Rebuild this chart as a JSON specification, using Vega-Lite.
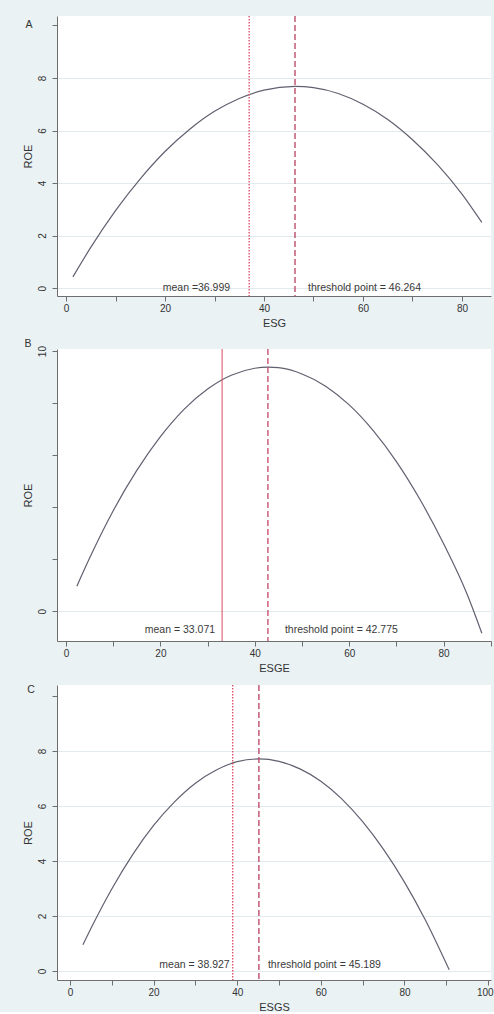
{
  "$schema": "https://vega.github.io/schema/vega-lite/v6.json",
  "background": "#EAF2F3",
  "padding": {"left": 22, "top": 15, "right": 0, "bottom": 0},
  "spacing": 11,
  "config": {
    "view": {"stroke": null, "fill": "white"},
    "font": "Liberation Sans",
    "axis": {
      "domainColor": "#6e6e6e", "tickColor": "#6e6e6e", "labelColor": "#333333", "titleColor": "#333333",
      "labelFontSize": 10, "titleFontSize": 11, "titleFontWeight": "normal", "labelFont": "Liberation Sans", "titleFont": "Liberation Sans",
      "gridColor": "#e1eaec", "tickSize": 5, "labelFlush": false
    },
    "axisX": {"labelPadding": 2, "titlePadding": 4, "grid": false},
    "axisY": {"labelPadding": 5, "titlePadding": 4, "labelAngle": 270, "labelAlign": "center", "labelBaseline": "bottom"}
  },
  "datasets": {
    "curveA": [
      {"ESG": 1.4, "ROE": 0.43}, {"ESG": 5, "ROE": 1.55}, {"ESG": 10, "ROE": 2.95}, {"ESG": 15, "ROE": 4.16},
      {"ESG": 20, "ROE": 5.2}, {"ESG": 25, "ROE": 6.05}, {"ESG": 30, "ROE": 6.73}, {"ESG": 35, "ROE": 7.22},
      {"ESG": 40, "ROE": 7.54}, {"ESG": 46.264, "ROE": 7.68}, {"ESG": 50, "ROE": 7.63}, {"ESG": 55, "ROE": 7.41},
      {"ESG": 60, "ROE": 7.0}, {"ESG": 65, "ROE": 6.42}, {"ESG": 70, "ROE": 5.65}, {"ESG": 75, "ROE": 4.71},
      {"ESG": 80, "ROE": 3.58}, {"ESG": 84, "ROE": 2.5}
    ],
    "curveB": [
      {"ESG": 2.3, "ROE": 0.96}, {"ESG": 5, "ROE": 2.04}, {"ESG": 10, "ROE": 3.86}, {"ESG": 15, "ROE": 5.41},
      {"ESG": 20, "ROE": 6.71}, {"ESG": 25, "ROE": 7.76}, {"ESG": 30, "ROE": 8.54}, {"ESG": 35, "ROE": 9.07},
      {"ESG": 40, "ROE": 9.34}, {"ESG": 42.775, "ROE": 9.38}, {"ESG": 45, "ROE": 9.36}, {"ESG": 50, "ROE": 9.12},
      {"ESG": 55, "ROE": 8.65}, {"ESG": 60, "ROE": 7.93}, {"ESG": 65, "ROE": 6.96}, {"ESG": 70, "ROE": 5.75},
      {"ESG": 75, "ROE": 4.29}, {"ESG": 80, "ROE": 2.59}, {"ESG": 85, "ROE": 0.64}, {"ESG": 88.1, "ROE": -0.85}
    ],
    "curveC": [
      {"ESG": 3.1, "ROE": 0.95}, {"ESG": 5, "ROE": 1.54}, {"ESG": 10, "ROE": 2.98}, {"ESG": 15, "ROE": 4.23},
      {"ESG": 20, "ROE": 5.29}, {"ESG": 25, "ROE": 6.15}, {"ESG": 30, "ROE": 6.83}, {"ESG": 35, "ROE": 7.31},
      {"ESG": 40, "ROE": 7.61}, {"ESG": 45.189, "ROE": 7.71}, {"ESG": 50, "ROE": 7.62}, {"ESG": 55, "ROE": 7.35},
      {"ESG": 60, "ROE": 6.9}, {"ESG": 65, "ROE": 6.26}, {"ESG": 70, "ROE": 5.43}, {"ESG": 75, "ROE": 4.42},
      {"ESG": 80, "ROE": 3.23}, {"ESG": 85, "ROE": 1.85}, {"ESG": 90.7, "ROE": 0.04}
    ],
    "refsA": [
      {"ESG": 36.999, "kind": "mean", "label": "mean =36.999"},
      {"ESG": 46.264, "kind": "threshold", "label": "threshold point = 46.264"}
    ],
    "refsB": [
      {"ESG": 33.071, "kind": "mean", "label": "mean = 33.071"},
      {"ESG": 42.775, "kind": "threshold", "label": "threshold point = 42.775"}
    ],
    "refsC": [
      {"ESG": 38.927, "kind": "mean", "label": "mean = 38.927"},
      {"ESG": 45.189, "kind": "threshold", "label": "threshold point = 45.189"}
    ]
  },
  "vconcat": [
    {
      "width": 434, "height": 280,
      "layer": [
        {
          "data": {"name": "curveA"},
          "mark": {"type": "line", "color": "#606070", "strokeWidth": 1.2, "interpolate": "monotone"},
          "encoding": {
            "x": {"field": "ESG", "type": "quantitative", "title": "ESG",
              "scale": {"domain": [-1.82, 85.86], "nice": false, "zero": false},
              "axis": {"values": [0, 10, 20, 30, 40, 50, 60, 70, 80], "labelExpr": "datum.value % 20 === 0 ? datum.label : ''"}},
            "y": {"field": "ROE", "type": "quantitative", "title": "ROE",
              "scale": {"domain": [-0.3, 10.36], "nice": false, "zero": false},
              "axis": {"values": [0, 1, 2, 3, 4, 5, 6, 7, 8, 9, 10], "labelExpr": "datum.value % 2 === 0 && datum.value < 10 ? datum.label : ''", "grid": true,
                "gridOpacity": {"condition": {"test": "datum.value % 2 === 0 && datum.value < 10", "value": 1}, "value": 0}}}
          }
        },
        {
          "data": {"name": "refsA"}, "transform": [{"filter": "datum.kind === 'mean'"}],
          "mark": {"type": "rule", "color": "#d94a64", "strokeWidth": 1.3, "strokeDash": [1.5, 1.5]},
          "encoding": {"x": {"field": "ESG", "type": "quantitative", "title": "ESG"}}
        },
        {
          "data": {"name": "refsA"}, "transform": [{"filter": "datum.kind === 'threshold'"}],
          "mark": {"type": "rule", "color": "#b8405e", "strokeWidth": 1.3, "strokeDash": [6, 3]},
          "encoding": {"x": {"field": "ESG", "type": "quantitative", "title": "ESG"}}
        },
        {
          "data": {"name": "refsA"}, "transform": [{"filter": "datum.kind === 'mean'"}],
          "mark": {"type": "text", "align": "right", "baseline": "middle", "dx": -19, "fontSize": 10.5, "color": "#3a3a3a"},
          "encoding": {"x": {"field": "ESG", "type": "quantitative", "title": "ESG"}, "y": {"datum": 0}, "text": {"field": "label"}}
        },
        {
          "data": {"name": "refsA"}, "transform": [{"filter": "datum.kind === 'threshold'"}],
          "mark": {"type": "text", "align": "left", "baseline": "middle", "dx": 13, "fontSize": 10.5, "color": "#3a3a3a"},
          "encoding": {"x": {"field": "ESG", "type": "quantitative", "title": "ESG"}, "y": {"datum": 0}, "text": {"field": "label"}}
        },
        {
          "data": {"name": "refsA"}, "transform": [{"filter": "datum.kind === 'mean'"}],
          "mark": {"type": "text", "text": "A", "align": "center", "baseline": "middle", "fontSize": 10.5, "color": "#333333"},
          "encoding": {"x": {"datum": -7.5}, "y": {"datum": 10}}
        }
      ]
    },
    {
      "width": 434, "height": 292,
      "layer": [
        {
          "data": {"name": "curveB"},
          "mark": {"type": "line", "color": "#606070", "strokeWidth": 1.2, "interpolate": "monotone"},
          "encoding": {
            "x": {"field": "ESG", "type": "quantitative", "title": "ESGE",
              "scale": {"domain": [-1.91, 90.04], "nice": false, "zero": false},
              "axis": {"values": [0, 10, 20, 30, 40, 50, 60, 70, 80, 90], "labelExpr": "datum.value % 20 === 0 ? datum.label : ''"}},
            "y": {"field": "ROE", "type": "quantitative", "title": "ROE",
              "scale": {"domain": [-1.15, 10.08], "nice": false, "zero": false},
              "axis": {"values": [0, 1, 2, 3, 4, 5, 6, 7, 8, 9, 10], "labelExpr": "datum.value % 5 === 0 ? datum.label : ''", "grid": true,
                "gridOpacity": {"condition": {"test": "datum.value % 5 === 0 && datum.value < 10", "value": 1}, "value": 0}}}
          }
        },
        {
          "data": {"name": "refsB"}, "transform": [{"filter": "datum.kind === 'mean'"}],
          "mark": {"type": "rule", "color": "#d94a64", "strokeWidth": 1},
          "encoding": {"x": {"field": "ESG", "type": "quantitative", "title": "ESGE"}}
        },
        {
          "data": {"name": "refsB"}, "transform": [{"filter": "datum.kind === 'threshold'"}],
          "mark": {"type": "rule", "color": "#c8466a", "strokeWidth": 1.3, "strokeDash": [6, 3]},
          "encoding": {"x": {"field": "ESG", "type": "quantitative", "title": "ESGE"}}
        },
        {
          "data": {"name": "refsB"}, "transform": [{"filter": "datum.kind === 'mean'"}],
          "mark": {"type": "text", "align": "right", "baseline": "middle", "dx": -7, "fontSize": 10.5, "color": "#3a3a3a"},
          "encoding": {"x": {"field": "ESG", "type": "quantitative", "title": "ESGE"}, "y": {"datum": -0.73}, "text": {"field": "label"}}
        },
        {
          "data": {"name": "refsB"}, "transform": [{"filter": "datum.kind === 'threshold'"}],
          "mark": {"type": "text", "align": "left", "baseline": "middle", "dx": 17, "fontSize": 10.5, "color": "#3a3a3a"},
          "encoding": {"x": {"field": "ESG", "type": "quantitative", "title": "ESGE"}, "y": {"datum": -0.73}, "text": {"field": "label"}}
        },
        {
          "data": {"name": "refsB"}, "transform": [{"filter": "datum.kind === 'mean'"}],
          "mark": {"type": "text", "text": "B", "align": "center", "baseline": "middle", "fontSize": 10.5, "color": "#333333"},
          "encoding": {"x": {"datum": -8.05}, "y": {"datum": 10.27}}
        }
      ]
    },
    {
      "width": 434, "height": 295,
      "layer": [
        {
          "data": {"name": "curveC"},
          "mark": {"type": "line", "color": "#606070", "strokeWidth": 1.2, "interpolate": "monotone"},
          "encoding": {
            "x": {"field": "ESG", "type": "quantitative", "title": "ESGS",
              "scale": {"domain": [-3.1, 100.7], "nice": false, "zero": false},
              "axis": {"values": [0, 10, 20, 30, 40, 50, 60, 70, 80, 90, 100], "labelExpr": "datum.value % 20 === 0 ? datum.label : ''",
                "labelAlign": {"condition": {"test": "datum.value === 100", "value": "right"}, "value": "center"},
                "labelOffset": {"condition": {"test": "datum.value === 100", "value": 5}, "value": 0}}},
            "y": {"field": "ROE", "type": "quantitative", "title": "ROE",
              "scale": {"domain": [-0.33, 10.4], "nice": false, "zero": false},
              "axis": {"values": [0, 1, 2, 3, 4, 5, 6, 7, 8, 9, 10], "labelExpr": "datum.value % 2 === 0 && datum.value < 10 ? datum.label : ''", "grid": true,
                "gridOpacity": {"condition": {"test": "datum.value % 2 === 0 && datum.value < 10", "value": 1}, "value": 0}}}
          }
        },
        {
          "data": {"name": "refsC"}, "transform": [{"filter": "datum.kind === 'mean'"}],
          "mark": {"type": "rule", "color": "#d94a64", "strokeWidth": 1.3, "strokeDash": [1.5, 1.5]},
          "encoding": {"x": {"field": "ESG", "type": "quantitative", "title": "ESGS"}}
        },
        {
          "data": {"name": "refsC"}, "transform": [{"filter": "datum.kind === 'threshold'"}],
          "mark": {"type": "rule", "color": "#b8405e", "strokeWidth": 1.3, "strokeDash": [6, 3]},
          "encoding": {"x": {"field": "ESG", "type": "quantitative", "title": "ESGS"}}
        },
        {
          "data": {"name": "refsC"}, "transform": [{"filter": "datum.kind === 'mean'"}],
          "mark": {"type": "text", "align": "right", "baseline": "middle", "dx": -3, "fontSize": 10.5, "color": "#3a3a3a"},
          "encoding": {"x": {"field": "ESG", "type": "quantitative", "title": "ESGS"}, "y": {"datum": 0.22}, "text": {"field": "label"}}
        },
        {
          "data": {"name": "refsC"}, "transform": [{"filter": "datum.kind === 'threshold'"}],
          "mark": {"type": "text", "align": "left", "baseline": "middle", "dx": 9, "fontSize": 10.5, "color": "#3a3a3a"},
          "encoding": {"x": {"field": "ESG", "type": "quantitative", "title": "ESGS"}, "y": {"datum": 0.22}, "text": {"field": "label"}}
        },
        {
          "data": {"name": "refsC"}, "transform": [{"filter": "datum.kind === 'mean'"}],
          "mark": {"type": "text", "text": "C", "align": "center", "baseline": "middle", "fontSize": 10.5, "color": "#333333"},
          "encoding": {"x": {"datum": -9.3}, "y": {"datum": 10.2}}
        }
      ]
    }
  ]
}
